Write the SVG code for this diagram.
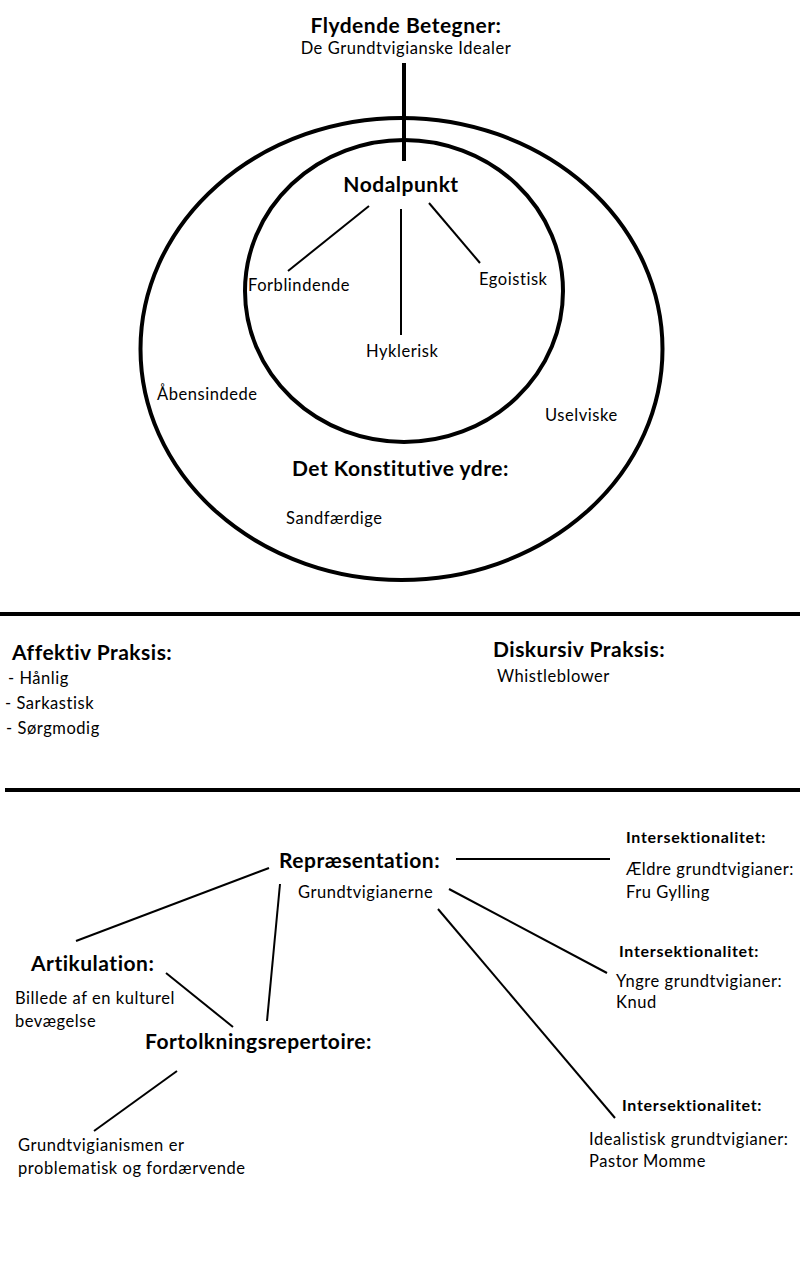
<svg xmlns="http://www.w3.org/2000/svg" width="800" height="1282" viewBox="0 0 800 1282">
<style>
text{font-family:Lato,"Open Sans","Liberation Sans",sans-serif;fill:#000}
.h{font-weight:bold;font-size:21px;letter-spacing:0.5px}
.hs{font-weight:bold;font-size:16px;letter-spacing:0.7px}
.t{font-size:16.5px;letter-spacing:0.55px}
.ring{fill:none;stroke:#000;stroke-width:4}
.c{stroke:#000;stroke-width:2;fill:none}
.thick{stroke:#000;stroke-width:4;fill:none}
</style>
<rect width="800" height="1282" fill="#fff"/>
<g id="outer-ring"><ellipse class="ring" cx="401.5" cy="349" rx="261" ry="231"/></g>
<g id="inner-ring"><ellipse class="ring" cx="404" cy="291" rx="159" ry="151"/></g>
<g id="connectors">
<line class="thick" x1="404" y1="63" x2="404" y2="161"/>
<line class="c" x1="369" y1="206" x2="288" y2="271"/>
<line class="c" x1="401" y1="209" x2="401" y2="335"/>
<line class="c" x1="429" y1="203" x2="480" y2="263"/>
<line class="thick" x1="0" y1="614" x2="800" y2="614"/>
<line class="thick" x1="5" y1="790" x2="800" y2="790"/>
<line class="c" x1="456" y1="859" x2="610" y2="859" stroke-width="2.5"/>
<line class="c" x1="449" y1="889" x2="607" y2="973"/>
<line class="c" x1="438" y1="909" x2="615" y2="1118"/>
<line class="c" x1="269" y1="868" x2="76" y2="941"/>
<line class="c" x1="280" y1="884" x2="267" y2="1021"/>
<line class="c" x1="166" y1="973" x2="233" y2="1027"/>
<line class="c" x1="177" y1="1071" x2="94" y2="1131"/>
</g>
<g id="flydende"><text class="h" x="406" y="33" text-anchor="middle">Flydende Betegner:</text><text class="t" x="406" y="54" text-anchor="middle">De Grundtvigianske Idealer</text></g>
<g id="nodalpunkt"><text class="h" x="401" y="192" text-anchor="middle">Nodalpunkt</text></g>
<g id="forblindende"><text class="t" x="248" y="291">Forblindende</text></g>
<g id="egoistisk"><text class="t" x="479" y="285">Egoistisk</text></g>
<g id="hyklerisk"><text class="t" x="366" y="357">Hyklerisk</text></g>
<g id="abensindede"><text class="t" x="157" y="400">Åbensindede</text></g>
<g id="uselviske"><text class="t" x="545" y="421">Uselviske</text></g>
<g id="konstitutive"><text class="h" x="292" y="476">Det Konstitutive ydre:</text></g>
<g id="sandfaerdige"><text class="t" x="286" y="524">Sandfærdige</text></g>
<g id="affektiv"><text class="h" x="12" y="660">Affektiv Praksis:</text><text class="t" x="8" y="684">- Hånlig</text><text class="t" x="5" y="709">- Sarkastisk</text><text class="t" x="6" y="734">- Sørgmodig</text></g>
<g id="diskursiv"><text class="h" x="493" y="657">Diskursiv Praksis:</text><text class="t" x="497" y="682">Whistleblower</text></g>
<g id="repraesentation"><text class="h" x="279" y="868">Repræsentation:</text><text class="t" x="298" y="898">Grundtvigianerne</text></g>
<g id="inter1"><text class="hs" x="626" y="843">Intersektionalitet:</text><text class="t" x="626" y="875">Ældre grundtvigianer:</text><text class="t" x="626" y="898">Fru Gylling</text></g>
<g id="inter2"><text class="hs" x="619" y="957">Intersektionalitet:</text><text class="t" x="616" y="987">Yngre grundtvigianer:</text><text class="t" x="616" y="1008">Knud</text></g>
<g id="inter3"><text class="hs" x="622" y="1111">Intersektionalitet:</text><text class="t" x="589" y="1145">Idealistisk grundtvigianer:</text><text class="t" x="589" y="1167">Pastor Momme</text></g>
<g id="artikulation"><text class="h" x="31" y="971">Artikulation:</text><text class="t" x="15" y="1004">Billede af en kulturel</text><text class="t" x="15" y="1027">bevægelse</text></g>
<g id="fortolkning"><text class="h" x="145" y="1049">Fortolkningsrepertoire:</text></g>
<g id="grundtvigianismen"><text class="t" x="18" y="1151">Grundtvigianismen er</text><text class="t" x="18" y="1174">problematisk og fordærvende</text></g>
</svg>
